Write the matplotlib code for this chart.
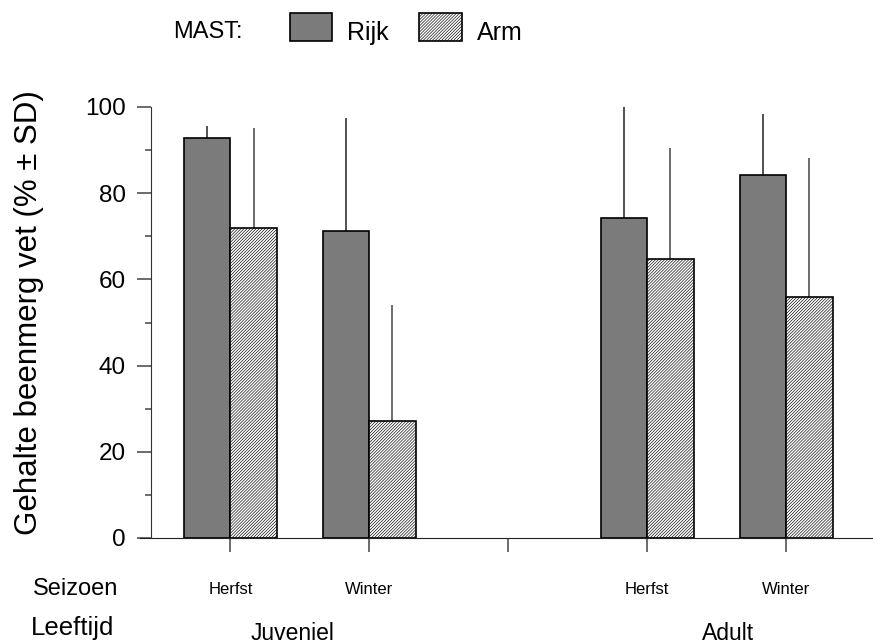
import numpy as np
import matplotlib
matplotlib.use("Agg")
import matplotlib.pyplot as plt
from matplotlib.patches import Rectangle
from matplotlib.ticker import MultipleLocator

# --------------------------------------------------
# Data
# --------------------------------------------------

group_pos = [1, 2, 4, 5]
seizoen = ["Herfst", "Winter", "Herfst", "Winter"]
leeftijd = ["Juveniel", "Adult"]

rijk_mean = [92.9, 71.2, 74.3, 84.2]
rijk_sd = [2.7, 26.2, 25.8, 14.2]

arm_mean = [72.0, 27.1, 64.8, 55.9]
arm_sd = [23.1, 27.0, 25.6, 32.2]

# --------------------------------------------------
# Style
# --------------------------------------------------

plt.rcParams['font.family'] = ['Liberation Sans', 'DejaVu Sans']
plt.rcParams['hatch.linewidth'] = 0.45
plt.rcParams['hatch.color'] = '#a8a8a8'

RIJK_COLOR = '#7b7b7b'
ARM_HATCH = '/' * 11
BAR_W = 1 / 3

fig = plt.figure(figsize=(8.73, 6.44), dpi=100)

# axes: x axis line from px 140 to right edge, y 0 at px 538, 100 at px 107
ax = fig.add_axes([140 / 873, 1 - 538 / 644, 733 / 873, 431 / 644])

x = np.array(group_pos, dtype=float)

ax.bar(
    x - BAR_W / 2,
    rijk_mean,
    width=BAR_W,
    color=RIJK_COLOR,
    edgecolor='black',
    linewidth=1.2,
    zorder=2
)

ax.bar(
    x + BAR_W / 2,
    arm_mean,
    width=BAR_W,
    color='white',
    edgecolor='black',
    linewidth=1.2,
    hatch=ARM_HATCH,
    zorder=2
)

# upper error bars only
ax.errorbar(
    x - BAR_W / 2,
    rijk_mean,
    yerr=[np.zeros(len(rijk_sd)), rijk_sd],
    fmt='none',
    ecolor='#222222',
    elinewidth=1.1,
    capsize=0,
    clip_on=False,
    zorder=1
)

ax.errorbar(
    x + BAR_W / 2,
    arm_mean,
    yerr=[np.zeros(len(arm_sd)), arm_sd],
    fmt='none',
    ecolor='#444444',
    elinewidth=1.1,
    capsize=0,
    clip_on=False,
    zorder=1
)

# --------------------------------------------------
# Axes
# --------------------------------------------------

ax.set_xlim(0.35, 5.624)
ax.set_ylim(0, 100)

ax.spines['top'].set_visible(False)
ax.spines['right'].set_visible(False)
ax.spines['left'].set_position(('data', 0.4295))
ax.spines['left'].set_bounds(0, 100)
ax.spines['left'].set_color('#333333')
ax.spines['bottom'].set_color('#222222')
ax.spines['left'].set_zorder(3)

ax.set_xticks([1, 2, 3, 4, 5])
ax.set_xticklabels([])
ax.tick_params(axis='x', direction='out', length=10, width=1.1, color='#444444')

ax.yaxis.set_major_locator(MultipleLocator(20))
ax.yaxis.set_minor_locator(MultipleLocator(10))
ax.tick_params(axis='y', which='major', direction='out', length=10,
               width=1.1, color='#444444', labelsize=17.5, pad=8)
ax.tick_params(axis='y', which='minor', direction='out', length=4,
               width=1.1, color='#444444')

fig.text(29 / 873, 1 - 313 / 644, "Gehalte beenmerg vet (% ± SD)",
         rotation=90, ha='center', va='center', fontsize=22.5)

# category labels under the axis
trans = ax.get_xaxis_transform()
season_y = -(589 - 538) / 431
age_y = -(634 - 538) / 431

for pos, lab in zip(group_pos, seizoen):
    ax.text(pos, season_y, lab, transform=trans,
            ha='center', va='center', fontsize=12)

ax.text(1.45, age_y, leeftijd[0], transform=trans,
        ha='center', va='center', fontsize=16.5)
ax.text(4.58, age_y, leeftijd[1], transform=trans,
        ha='center', va='center', fontsize=16.5)

fig.text(33 / 873, 1 - 589 / 644, "Seizoen",
         ha='left', va='center', fontsize=17)
fig.text(31 / 873, 1 - 628 / 644, "Leeftijd",
         ha='left', va='center', fontsize=18.5)

# --------------------------------------------------
# Legend
# --------------------------------------------------

fig.text(173 / 873, 1 - 32 / 644, "MAST:",
         ha='left', va='center', fontsize=17)

fig.add_artist(Rectangle(
    (290 / 873, 1 - 41 / 644), 42 / 873, 28 / 644,
    transform=fig.transFigure,
    facecolor=RIJK_COLOR, edgecolor='black', linewidth=1.2
))
fig.text(347 / 873, 1 - 33 / 644, "Rijk",
         ha='left', va='center', fontsize=18)

fig.add_artist(Rectangle(
    (419 / 873, 1 - 41 / 644), 43 / 873, 28 / 644,
    transform=fig.transFigure,
    facecolor='white', edgecolor='black', linewidth=1.2,
    hatch=ARM_HATCH
))
fig.text(477 / 873, 1 - 33 / 644, "Arm",
         ha='left', va='center', fontsize=18)

fig.savefig("out.png", dpi=100)
